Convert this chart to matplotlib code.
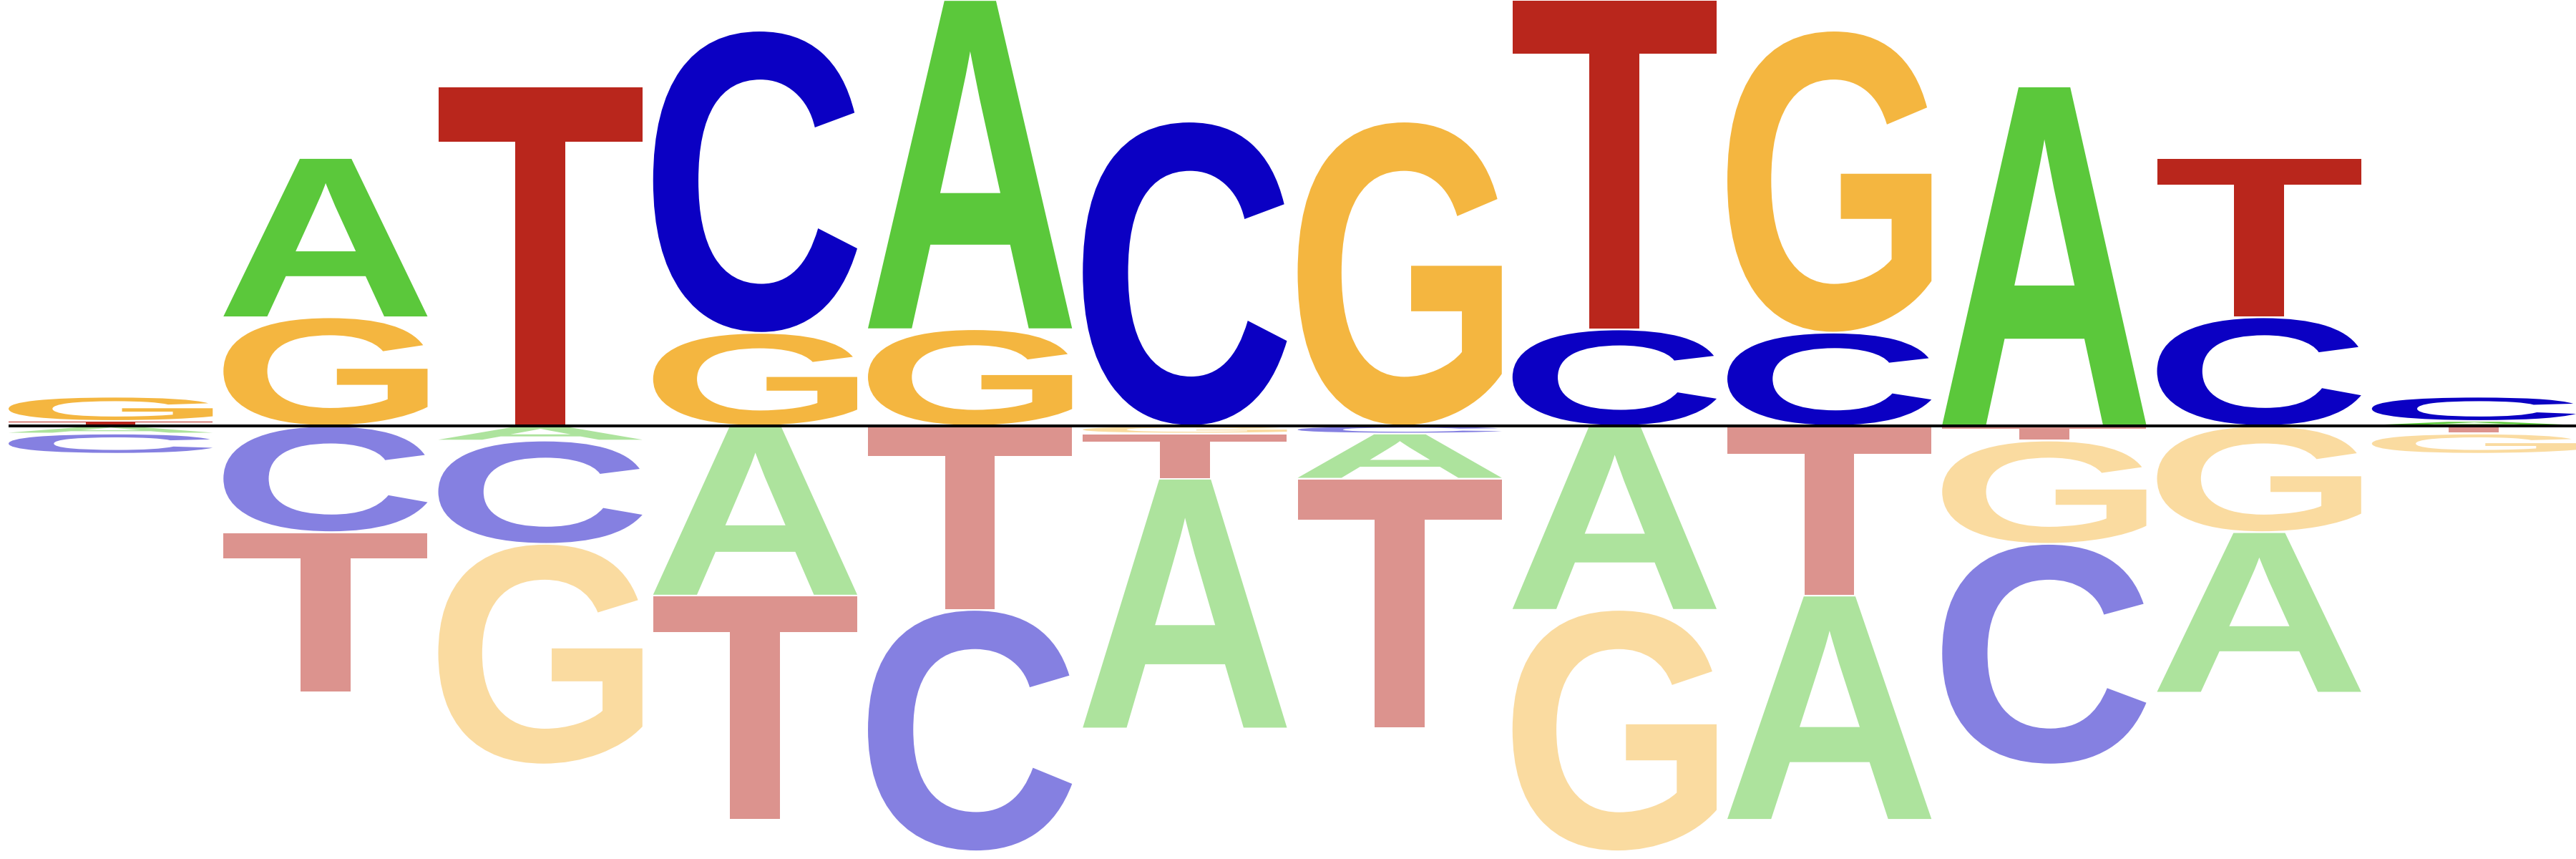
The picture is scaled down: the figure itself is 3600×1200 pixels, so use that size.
import numpy as np
import matplotlib
matplotlib.use("Agg")
import matplotlib.pyplot as plt
from matplotlib.textpath import TextPath
from matplotlib.font_manager import FontProperties
from matplotlib.patches import PathPatch
from matplotlib.transforms import Affine2D
from matplotlib.colors import to_rgb

# stacks above the line, from the line upwards (letter, bits)
pos_letters = [["T", "G"], ["G", "A"], ["T"], ["G", "C"], ["G", "A"], ["C"],
               ["G"], ["C", "T"], ["C", "G"], ["A"], ["C", "T"], ["A", "C"]]
pos_heights = [[0.023, 0.114], [0.510, 0.748], [1.594], [0.437, 1.419],
               [0.454, 1.546], [1.429], [1.429], [0.453, 1.547],
               [0.438, 1.418], [1.594], [0.510, 0.748], [0.023, 0.114]]

# stacks below the line, from the line downwards
neg_letters = [["A", "C"], ["C", "T"], ["A", "C", "G"], ["A", "T"], ["T", "C"],
               ["G", "T", "A"], ["C", "A", "T"], ["A", "G"], ["T", "A"],
               ["T", "G", "C"], ["G", "A"], ["T", "G"]]
neg_heights = [[0.036, 0.095], [0.499, 0.754], [0.069, 0.485, 1.036],
               [0.797, 1.053], [0.864, 1.134], [0.036, 0.212, 1.173],
               [0.036, 0.212, 1.173], [0.864, 1.134], [0.797, 1.053],
               [0.069, 0.485, 1.036], [0.499, 0.754], [0.036, 0.095]]

colors = {"A": "#5bc83b", "C": "#0b00c3", "G": "#f4b640", "T": "#b9261c"}


def light(c):
    r = np.array(to_rgb(c))
    return tuple(0.5 * r + 0.5)


fp = FontProperties(family="Liberation Sans", weight="bold")
glyphs = {}
for ch in "ACGT":
    glyphs[ch] = TextPath((0, 0), ch, size=1, prop=fp)


def draw_letter(ax, ch, x, y, w, h, color):
    tp = glyphs[ch]
    bb = tp.get_extents()
    tr = Affine2D().translate(-bb.x0, -bb.y0).scale(w / bb.width, h / bb.height).translate(x, y)
    ax.add_patch(PathPatch(tr.transform_path(tp), facecolor=color, lw=0, edgecolor="none"))


fig = plt.figure(figsize=(12, 4), dpi=300)
ax = fig.add_axes([0, 0, 1, 1])
ax.set_xlim(-0.04, 11.95)
ax.set_ylim(-2.034, 2.0)
ax.axis("off")

w = 0.95
pad = 0.004
for i in range(12):
    y = 0.0
    for ch, h in zip(pos_letters[i], pos_heights[i]):
        draw_letter(ax, ch, i, y + pad, w, h - 2 * pad, colors[ch])
        y += h
    y = 0.0
    for ch, h in zip(neg_letters[i], neg_heights[i]):
        draw_letter(ax, ch, i, y - h + pad, w, h - 2 * pad, light(colors[ch]))
        y -= h

ax.plot([0, 11.95], [0, 0], color="black", lw=0.96, solid_capstyle="butt")

fig.savefig("out.png", dpi=300)
